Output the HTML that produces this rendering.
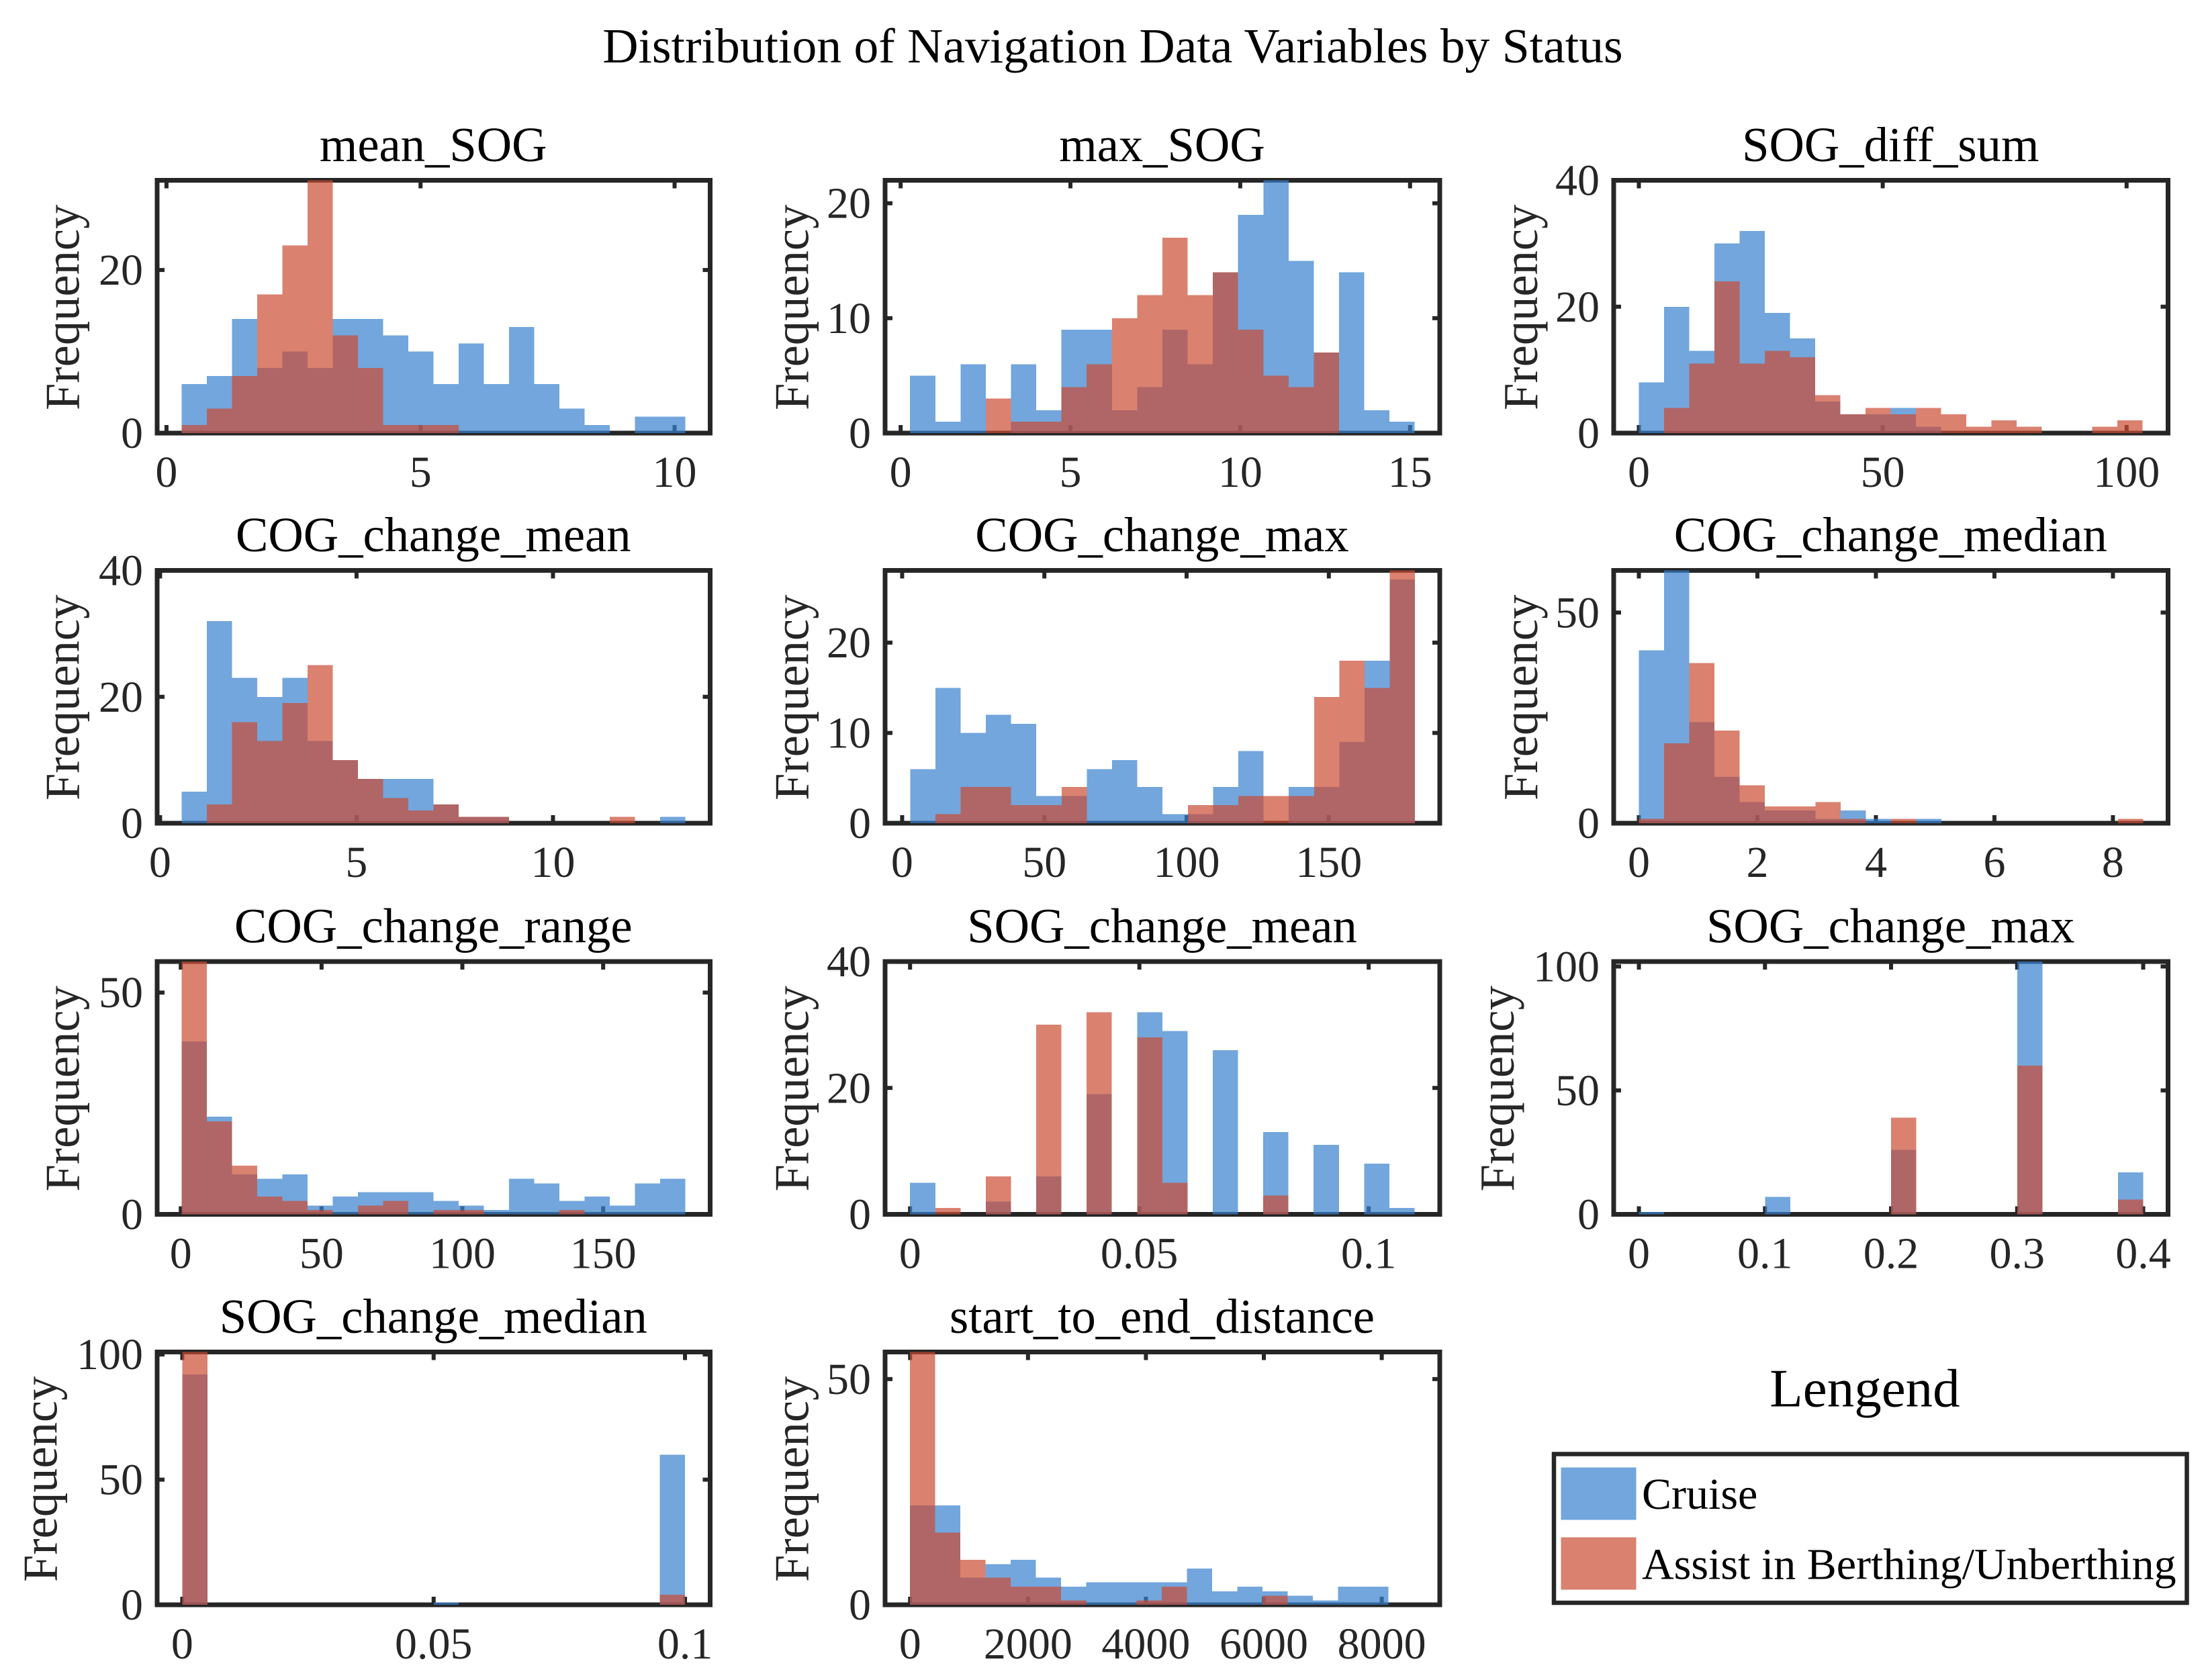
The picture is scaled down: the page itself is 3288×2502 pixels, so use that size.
<!DOCTYPE html>
<html lang="en">
<head>
<meta charset="utf-8">
<title>Distribution of Navigation Data Variables by Status</title>
<style>
html,body{margin:0;padding:0;background:#fff;}
svg{display:block;font-family:"Liberation Serif",serif;}
</style>
</head>
<body>
<svg id="figure" xmlns="http://www.w3.org/2000/svg" width="3288" height="2502" viewBox="0 0 3288 2502">
  <rect x="0" y="0" width="3288" height="2502" fill="#ffffff"/>
  <text x="1657" y="93" text-anchor="middle" font-size="73.6" fill="#000000">Distribution of Navigation Data Variables by Status</text>
  <g id="panels"></g>
  <g>
    <text x="2777" y="2094.5" text-anchor="middle" font-size="81" fill="#000000">Lengend</text>
    <rect x="2314" y="2165.5" width="942.5" height="221.5" fill="#ffffff" stroke="#262626" stroke-width="6.5"/>
    <rect x="2324.5" y="2185.5" width="112" height="78" fill="rgb(54,128,205)" fill-opacity="0.7"/>
    <text x="2445" y="2247" font-size="66" fill="#000000">Cruise</text>
    <rect x="2324.5" y="2289.5" width="112" height="78" fill="rgb(202,76,51)" fill-opacity="0.7"/>
    <text x="2445" y="2351.5" font-size="66" fill="#000000">Assist in Berthing/Unberthing</text>
  </g>
</svg>
<script>
// ---- Data: per-bin counts for each variable ----
const meanSogCruise = [6,7,14,8,10,8,14,14,12,10,6,11,6,13,6,3,1,0,2,2];
const meanSogAssist = [1,3,7,17,23,31,12,8,1,1,1,0,0,0,0,0,0,0,0,0];
const meanSogBins = [0.30,0.4957];
const meanSogXLim = [-0.184,10.70];
const meanSogYMax = 31;
const meanSogXTicks = [0,5,10];
const meanSogYTicks = [0,20];

const maxSogCruise = [5,1,6,0,6,2,9,9,2,4,9,6,14,19,22,15,7,14,2,1];
const maxSogAssist = [0,0,0,3,1,1,4,6,10,12,17,12,14,9,5,4,7,0,0,0];
const maxSogBins = [0.278,0.743];
const maxSogXLim = [-0.458,15.875];
const maxSogYMax = 22;
const maxSogXTicks = [0,5,10,15];
const maxSogYTicks = [0,10,20];

const sogDiffSumCruise = [8,20,13,30,32,19,15,5,3,3,4,1,0,0,0,0,0,0,0,0];
const sogDiffSumAssist = [0,4,11,24,11,13,12,6,3,4,3,4,3,1,2,1,0,0,1,2];
const sogDiffSumBins = [0,5.165];
const sogDiffSumXLim = [-5.16,108.5];
const sogDiffSumYMax = 40;
const sogDiffSumXTicks = [0,50,100];
const sogDiffSumYTicks = [0,20,40];

const cogMeanCruise = [5,32,23,20,23,13,10,7,7,7,3,1,1,0,0,0,0,0,0,1];
const cogMeanAssist = [0,3,16,13,19,25,10,7,4,2,3,1,1,0,0,0,0,1,0,0];
const cogMeanBins = [0.55,0.641];
const cogMeanXLim = [-0.075,14.0];
const cogMeanYMax = 40;
const cogMeanXTicks = [0,5,10];
const cogMeanYTicks = [0,20,40];

const cogMaxCruise = [6,15,10,12,11,3,3,6,7,4,1,1,4,8,0,4,4,9,18,27];
const cogMaxAssist = [0,1,4,4,2,2,4,0,0,0,0,2,2,3,3,3,14,18,15,28];
const cogMaxBins = [2.8,8.875];
const cogMaxXLim = [-6,189];
const cogMaxYMax = 28;
const cogMaxXTicks = [0,50,100,150];
const cogMaxYTicks = [0,10,20];

const cogMedianCruise = [41,60,24,11,5,3,3,1,3,1,0,1,0,0,0,0,0,0,0,0];
const cogMedianAssist = [1,19,38,22,9,4,4,5,1,0,1,0,0,0,0,0,0,0,0,1];
const cogMedianBins = [0,0.4255];
const cogMedianXLim = [-0.425,8.93];
const cogMedianYMax = 60;
const cogMedianXTicks = [0,2,4,6,8];
const cogMedianYTicks = [0,50];

const cogRangeCruise = [39,22,9,8,9,2,4,5,5,5,3,2,1,8,7,3,4,2,7,8];
const cogRangeAssist = [57,21,11,4,3,1,0,2,3,0,1,1,0,0,0,1,0,0,0,0];
const cogRangeBins = [0.35,8.94];
const cogRangeXLim = [-8.4,188];
const cogRangeYMax = 57;
const cogRangeXTicks = [0,50,100,150];
const cogRangeYTicks = [0,50];

const sogMeanCruise = [5,0,0,2,0,6,0,19,0,32,29,0,26,0,13,0,11,0,8,1];
const sogMeanAssist = [0,1,0,6,0,30,0,32,0,28,5,0,0,0,3,0,0,0,0,0];
const sogMeanBins = [0,0.0055];
const sogMeanXLim = [-0.00545,0.1155];
const sogMeanYMax = 40;
const sogMeanXTicks = [0,0.05,0.1];
const sogMeanYTicks = [0,20,40];

const sogMaxCruise = [1,0,0,0,0,7,0,0,0,0,26,0,0,0,0,102,0,0,0,17];
const sogMaxAssist = [0,0,0,0,0,0,0,0,0,0,39,0,0,0,0,60,0,0,0,6];
const sogMaxBins = [0,0.02];
const sogMaxXLim = [-0.02,0.4197];
const sogMaxYMax = 102;
const sogMaxXTicks = [0,0.1,0.2,0.3,0.4];
const sogMaxYTicks = [0,50,100];

const sogMedianCruise = [92,0,0,0,0,0,0,0,0,0,1,0,0,0,0,0,0,0,0,60];
const sogMedianAssist = [101,0,0,0,0,0,0,0,0,0,0,0,0,0,0,0,0,0,0,4];
const sogMedianBins = [0,0.005];
const sogMedianXLim = [-0.005,0.105];
const sogMedianYMax = 101;
const sogMedianXTicks = [0,0.05,0.1];
const sogMedianYTicks = [0,50,100];

const distanceCruise = [22,22,6,9,10,6,4,5,5,5,5,8,3,4,3,2,1,4,4,0];
const distanceAssist = [56,16,10,6,4,4,1,0,0,1,4,0,0,0,2,0,0,0,0,0];
const distanceBins = [0,427];
const distanceXLim = [-424,8984];
const distanceYMax = 56;
const distanceXTicks = [0,2000,4000,6000,8000];
const distanceYTicks = [0,50];

// ---- Panel registry (references the arrays above) ----
const panels = [
  {title:'mean_SOG',cruise:meanSogCruise,assist:meanSogAssist,bins:meanSogBins,xlim:meanSogXLim,ymax:meanSogYMax,xticks:meanSogXTicks,yticks:meanSogYTicks},
  {title:'max_SOG',cruise:maxSogCruise,assist:maxSogAssist,bins:maxSogBins,xlim:maxSogXLim,ymax:maxSogYMax,xticks:maxSogXTicks,yticks:maxSogYTicks},
  {title:'SOG_diff_sum',cruise:sogDiffSumCruise,assist:sogDiffSumAssist,bins:sogDiffSumBins,xlim:sogDiffSumXLim,ymax:sogDiffSumYMax,xticks:sogDiffSumXTicks,yticks:sogDiffSumYTicks},
  {title:'COG_change_mean',cruise:cogMeanCruise,assist:cogMeanAssist,bins:cogMeanBins,xlim:cogMeanXLim,ymax:cogMeanYMax,xticks:cogMeanXTicks,yticks:cogMeanYTicks},
  {title:'COG_change_max',cruise:cogMaxCruise,assist:cogMaxAssist,bins:cogMaxBins,xlim:cogMaxXLim,ymax:cogMaxYMax,xticks:cogMaxXTicks,yticks:cogMaxYTicks},
  {title:'COG_change_median',cruise:cogMedianCruise,assist:cogMedianAssist,bins:cogMedianBins,xlim:cogMedianXLim,ymax:cogMedianYMax,xticks:cogMedianXTicks,yticks:cogMedianYTicks},
  {title:'COG_change_range',cruise:cogRangeCruise,assist:cogRangeAssist,bins:cogRangeBins,xlim:cogRangeXLim,ymax:cogRangeYMax,xticks:cogRangeXTicks,yticks:cogRangeYTicks},
  {title:'SOG_change_mean',cruise:sogMeanCruise,assist:sogMeanAssist,bins:sogMeanBins,xlim:sogMeanXLim,ymax:sogMeanYMax,xticks:sogMeanXTicks,yticks:sogMeanYTicks},
  {title:'SOG_change_max',cruise:sogMaxCruise,assist:sogMaxAssist,bins:sogMaxBins,xlim:sogMaxXLim,ymax:sogMaxYMax,xticks:sogMaxXTicks,yticks:sogMaxYTicks},
  {title:'SOG_change_median',cruise:sogMedianCruise,assist:sogMedianAssist,bins:sogMedianBins,xlim:sogMedianXLim,ymax:sogMedianYMax,xticks:sogMedianXTicks,yticks:sogMedianYTicks},
  {title:'start_to_end_distance',cruise:distanceCruise,assist:distanceAssist,bins:distanceBins,xlim:distanceXLim,ymax:distanceYMax,xticks:distanceXTicks,yticks:distanceYTicks}
];

// ---- Layout ----
const NS = 'http://www.w3.org/2000/svg';
const INK = '#262626';
const colLefts = [234, 1318, 2403];
const colWidths = [823.5, 826, 825.5];
const rowTops = [268.5, 849.5, 1432, 2013.5];
const axisH = 376.5;
const yLabelBaselines = [117.5,1203.3,2289,117.5,1203.3,2289,117.5,1203.3,2254,84.5,1203.3];

function svgEl(tag, parent) {
  const el = document.createElementNS(NS, tag);
  parent.appendChild(el);
  return el;
}
function slug(s) { return s.toLowerCase().replace(/_/g, '-'); }

function drawBars(group, counts, bins, xScale, yScale, color, seriesName, varName) {
  counts.forEach(function (count, i) {
    if (count <= 0) return;
    const x0 = xScale(bins[0] + i * bins[1]);
    const x1 = xScale(bins[0] + (i + 1) * bins[1]);
    const bar = svgEl('rect', group);
    bar.setAttribute('x', x0);
    bar.setAttribute('width', x1 - x0);
    bar.setAttribute('y', yScale(count));
    bar.setAttribute('height', yScale(0) - yScale(count));
    bar.setAttribute('fill', color);
    bar.setAttribute('fill-opacity', '0.7');
    bar.setAttribute('shape-rendering', 'crispEdges');
    
    
  });
}

function drawPanel(p, index, root) {
  const left = colLefts[index % 3];
  const axisW = colWidths[index % 3];
  const top = rowTops[Math.floor(index / 3)];
  const right = left + axisW;
  const bottom = top + axisH;
  const xScale = function (v) { return left + (v - p.xlim[0]) / (p.xlim[1] - p.xlim[0]) * axisW; };
  const yScale = function (v) { return bottom - v / p.ymax * axisH; };
  const name = slug(p.title);

  const g = svgEl('g', root);
  
  

  const title = svgEl('text', g);
  title.setAttribute('x', left + axisW / 2 - 0.5);
  title.setAttribute('y', top - 28.5);
  title.setAttribute('text-anchor', 'middle');
  title.setAttribute('font-size', '72.6');
  title.setAttribute('fill', '#000000');
  title.textContent = p.title;
  
  

  const yLabel = svgEl('text', g);
  const ylx = yLabelBaselines[index];
  const yly = top + axisH / 2 + 1;
  yLabel.setAttribute('transform', 'rotate(-90 ' + ylx + ' ' + yly + ')');
  yLabel.setAttribute('x', ylx);
  yLabel.setAttribute('y', yly);
  yLabel.setAttribute('text-anchor', 'middle');
  yLabel.setAttribute('font-size', '72.6');
  yLabel.setAttribute('fill', INK);
  yLabel.textContent = 'Frequency';
  
  

  const frame = svgEl('rect', g);
  frame.setAttribute('x', left);
  frame.setAttribute('y', top);
  frame.setAttribute('width', axisW);
  frame.setAttribute('height', axisH);
  frame.setAttribute('fill', 'none');
  frame.setAttribute('stroke', INK);
  frame.setAttribute('stroke-width', '7');
  
  

  p.xticks.forEach(function (t) {
    const x = xScale(t);
    [[bottom, bottom - 12], [top, top + 12]].forEach(function (seg) {
      const tick = svgEl('line', g);
      tick.setAttribute('x1', x);
      tick.setAttribute('x2', x);
      tick.setAttribute('y1', seg[0]);
      tick.setAttribute('y2', seg[1]);
      tick.setAttribute('stroke', INK);
      tick.setAttribute('stroke-width', '6');
      
      
    });
    const label = svgEl('text', g);
    label.setAttribute('x', x);
    label.setAttribute('y', bottom + 80);
    label.setAttribute('text-anchor', 'middle');
    label.setAttribute('font-size', '66');
    label.setAttribute('fill', INK);
    label.textContent = String(t);
    
    
  });

  p.yticks.forEach(function (t) {
    const y = yScale(t);
    [[left, left + 11], [right, right - 11]].forEach(function (seg) {
      const tick = svgEl('line', g);
      tick.setAttribute('x1', seg[0]);
      tick.setAttribute('x2', seg[1]);
      tick.setAttribute('y1', y);
      tick.setAttribute('y2', y);
      tick.setAttribute('stroke', INK);
      tick.setAttribute('stroke-width', '6');
      
      
    });
    const label = svgEl('text', g);
    label.setAttribute('x', left - 21);
    label.setAttribute('y', y + 22);
    label.setAttribute('text-anchor', 'end');
    label.setAttribute('font-size', '66');
    label.setAttribute('fill', INK);
    label.textContent = String(t);
    
    
  });

  drawBars(g, p.cruise, p.bins, xScale, yScale, 'rgb(54,128,205)', 'cruise', name);
  drawBars(g, p.assist, p.bins, xScale, yScale, 'rgb(202,76,51)', 'assist', name);
}

const panelRoot = document.getElementById('panels');
panels.forEach(function (p, i) { drawPanel(p, i, panelRoot); });
</script>
</body>
</html>
